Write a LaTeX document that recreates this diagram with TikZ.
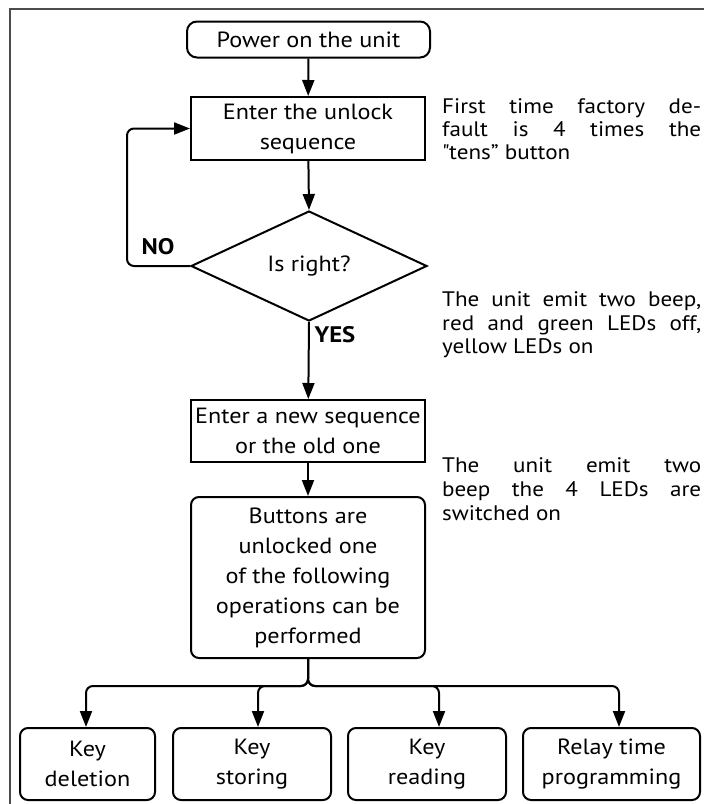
\documentclass[tikz,border=0pt]{standalone}
\usepackage{fontspec}
\setmainfont[FakeStretch=1.1]{PT Sans}
\usetikzlibrary{shapes.geometric,arrows.meta,calc}
\begin{document}
\begin{tikzpicture}[x=1pt,y=-1pt,
  box/.style={draw, line width=2pt, align=center, font=\fontsize{22}{30}\selectfont, inner sep=0pt},
  rbox/.style={box, rounded corners=8pt},
  arr/.style={line width=2pt, -{Triangle[length=16pt,width=12pt]}},
  lbl/.style={font=\fontsize{22.5}{26}\bfseries\selectfont, inner sep=0pt},
  note/.style={anchor=west, font=\fontsize{21}{24}\selectfont, inner sep=0pt, text height=15pt, text depth=5pt}]
\useasboundingbox (0,0) rectangle (704,804);
\draw[line width=1.5pt, black!70] (704,9) -- (10,9) -- (10,804);
\node[rbox, rounded corners=10pt, minimum width=243pt, minimum height=36pt] (pw) at (308.5,39.5) {Power on the unit};
\node[box, minimum width=234pt, minimum height=63pt] (ent) at (308,128.5) {Enter the unlock\\sequence};
\node[box, diamond, minimum width=236pt, minimum height=110pt] (dia) at (309,266) {Is right?};
\node[box, minimum width=234pt, minimum height=62pt] (nsq) at (308,431) {Enter a new sequence\\or the old one};
\node[rbox, minimum width=234pt, minimum height=161pt] (btn) at (308,577.5) {Buttons are\\unlocked one\\of the following\\operations can be\\performed};
\node[rbox, minimum width=135pt, minimum height=72pt] (kd) at (87.5,764) {Key\\deletion};
\node[rbox, minimum width=158pt, minimum height=72pt] (ks) at (252,764) {Key\\storing};
\node[rbox, minimum width=158pt, minimum height=72pt] (kr) at (427,764) {Key\\reading};
\node[rbox, minimum width=177pt, minimum height=72pt] (rl) at (611.5,764) {Relay time\\programming};
\node[lbl] (no) at (158,247) {NO};
\node[lbl] (yes) at (335,335) {YES};
\draw[arr] (pw) -- (ent);
\draw[arr] (ent) -- (dia.north);
\draw[arr] (dia.south) -- (nsq);
\draw[arr] (nsq) -- (btn);
\draw[arr, rounded corners=7pt] (dia.west) -- ++(-63,0) |- (ent.west);
\draw[arr, rounded corners=7pt] (btn.south) -- ++(0,27) -| ([xshift=-1.5pt]kd.north);
\draw[arr, rounded corners=7pt] (btn.south) -- ++(0,27) -| ([xshift=6pt]ks.north);
\draw[arr, rounded corners=7pt] (btn.south) -- ++(0,27) -| ([xshift=12pt]kr.north);
\draw[arr, rounded corners=7pt] (btn.south) -- ++(0,27) -| ([xshift=7.5pt]rl.north);
\node[note] (n1a) at (442,108) {\makebox[259pt][s]{First time factory de-}};
\node[note] (n1b) at (442,131) {\makebox[259pt][s]{fault is 4 times the}};
\node[note] (n1c) at (442,154) {\textquotedbl tens” button};
\node[note] (n2a) at (442,301) {\makebox[259pt][s]{The unit emit two beep,}};
\node[note] (n2b) at (442,325) {\makebox[259pt][s]{red and green LEDs off,}};
\node[note] (n2c) at (442,348) {yellow LEDs on};
\node[note] (n3a) at (442,467) {\makebox[259pt][s]{The unit emit two}};
\node[note] (n3b) at (442,491) {\makebox[259pt][s]{beep the 4 LEDs are}};
\node[note] (n3c) at (442,515) {switched on};
\end{tikzpicture}
\end{document}
